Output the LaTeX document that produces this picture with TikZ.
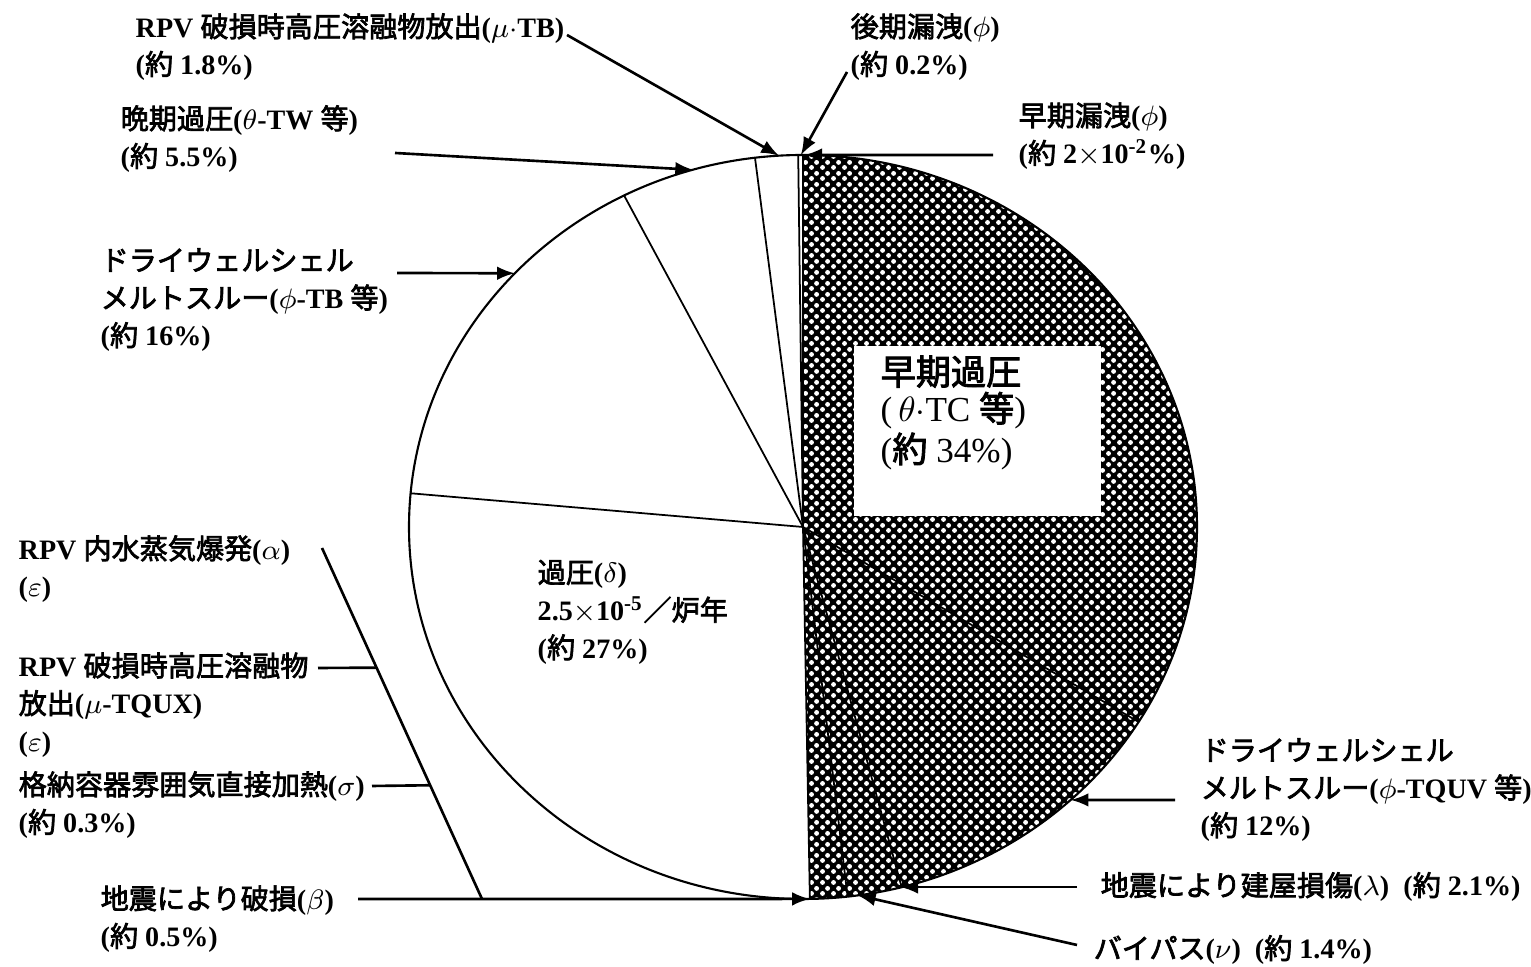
\documentclass[tikz,border=0pt]{standalone}
\usepackage{fontspec}
\setmainfont{Liberation Serif}
\newfontfamily\jp[FakeBold=2.5]{Noto Sans CJK JP}
\newcommand{\jpt}[1]{{\jp\mdseries #1}}
\usetikzlibrary{patterns,calc}
% white dots on the dark half of the pie
\pgfdeclarepatternformonly{pildots}{\pgfqpoint{-.75pt}{-.75pt}}{\pgfqpoint{2.25pt}{2.25pt}}{\pgfqpoint{3pt}{3pt}}{%
  \pgfpathcircle{\pgfqpoint{0pt}{0pt}}{.72pt}%
  \pgfpathcircle{\pgfqpoint{1.5pt}{1.5pt}}{.72pt}%
  \pgfusepath{fill}}
\begin{document}
\begin{tikzpicture}[x=0.1mm,y=0.1mm,
    lbl/.style={anchor=west,align=left,inner sep=0pt,font=\fontsize{8}{10.7}\selectfont\bfseries},
    ptr/.style={-latex,line width=0.75pt},
    tie/.style={line width=0.75pt},
    slice/.style={line width=0.5pt}]
    \useasboundingbox (0,0) rectangle (1531,967);
    \coordinate (C) at (803,440);
    % dark half
    \fill[black] (C) -- ++(271:394 and 372) arc[start angle=271,end angle=450,x radius=394,y radius=372] -- cycle;
    \fill[pattern=pildots,pattern color=white] (C) -- ++(271:394 and 372) arc[start angle=271,end angle=450,x radius=394,y radius=372] -- cycle;
    \foreach \a in {90,90.7,97,117,174.8,271,276.5,284.5,328.4}
        \draw[slice] (C) -- ++(\a:394 and 372);
    \draw[line width=0.6pt] (C) ellipse[x radius=394,y radius=372];
    \node[anchor=north west,fill=white,inner sep=0pt] (earlyOP) at (853,622)
        {\parbox[b][17mm][t]{24.7mm}{\vspace{1mm}\leftskip=2.7mm\fontsize{10}{10.5}\selectfont
        \jpt{早期過圧}\\(\,$\theta\cdot$TC \jpt{等})\\(\jpt{約} 34\%)}};
    \node[lbl] (lblDelta) at (537,355) {\jpt{過圧}($\delta$)\\2.5$\times$10\textsuperscript{-5}\jpt{／炉年}\\(\jpt{約} 27\%)};
    % labels, top
    \node[lbl] (lblMuTB) at (135,920) {RPV \jpt{破損時高圧溶融物放出}($\mu\cdot$TB)\\(\jpt{約} 1.8\%)};
    \node[lbl] (lblLateLeak) at (850,920) {\jpt{後期漏洩}($\phi$)\\(\jpt{約} 0.2\%)};
    \node[lbl] (lblLateOP) at (120,828) {\jpt{晩期過圧}($\theta$-TW \jpt{等})\\(\jpt{約} 5.5\%)};
    \node[lbl] (lblEarlyLeak) at (1018,831) {\jpt{早期漏洩}($\phi$)\\(\jpt{約} 2$\times$10\textsuperscript{-2}\%)};
    \node[lbl] (lblDWTB) at (100,667) {\jpt{ドライウェルシェル}\\\jpt{メルトスルー}($\phi$-TB \jpt{等})\\(\jpt{約} 16\%)};
    % labels, bottom left
    \node[lbl] (lblAlpha) at (18,398) {RPV \jpt{内水蒸気爆発}($\alpha$)\\($\varepsilon$)};
    \node[lbl] (lblTQUX) at (18,262) {RPV \jpt{破損時高圧溶融物}\\\jpt{放出}($\mu$-TQUX)\\($\varepsilon$)};
    \node[lbl] (lblSigma) at (18,162) {\jpt{格納容器雰囲気直接加熱}($\sigma$)\\(\jpt{約} 0.3\%)};
    \node[lbl] (lblBeta) at (100,48) {\jpt{地震により破損}($\beta$)\\(\jpt{約} 0.5\%)};
    % labels, bottom right
    \node[lbl] (lblDWTQUV) at (1200,177) {\jpt{ドライウェルシェル}\\\jpt{メルトスルー}($\phi$-TQUV \jpt{等})\\(\jpt{約} 12\%)};
    \node[lbl] (lblLambda) at (1100,80) {\jpt{地震により建屋損傷}($\lambda$)\enspace(\jpt{約} 2.1\%)};
    \node[lbl] (lblNu) at (1093,17) {\jpt{バイパス}($\nu$)\enspace(\jpt{約} 1.4\%)};
    % ends of the pointers
    \coordinate (sMuTB) at (567,932);
    \coordinate (sLateLeak) at (847,895);
    \coordinate (sLateOP) at (395,814);
    \coordinate (sEarlyLeak) at (993,812);
    \coordinate (sDWTB) at (397,694);
    \coordinate (sDWTQUV) at (1175,167);
    \coordinate (sLambda) at (1077,80);
    \coordinate (sNu) at (1077,22);
    \coordinate (sAlpha) at (322,419);
    \coordinate (sTQUX) at (318,299);
    \coordinate (sSigma) at (372,181);
    \coordinate (sBeta) at (358,68);
    \coordinate (joint) at (482,68);
    \path (C) ++(93.5:394 and 372) coordinate (tMuTB)
          (C) ++(90.3:394 and 372) coordinate (tLateLeak)
          (C) ++(106.2:394 and 372) coordinate (tLateOP)
          (C) ++(89.8:394 and 372) coordinate (tEarlyLeak)
          (C) ++(137:394 and 372) coordinate (tDWTB)
          (C) ++(312.8:394 and 372) coordinate (tDWTQUV)
          (C) ++(284.3:394 and 372) coordinate (tLambda)
          (C) ++(278:394 and 372) coordinate (tNu)
          (C) ++(271:394 and 372) coordinate (tBeta);
    \draw[ptr] (sMuTB) -- (tMuTB);
    \draw[ptr] (sLateLeak) -- (tLateLeak);
    \draw[ptr] (sLateOP) -- (tLateOP);
    \draw[ptr] (sEarlyLeak) -- (tEarlyLeak);
    \draw[ptr] (sDWTB) -- (tDWTB);
    \draw[ptr] (sDWTQUV) -- (tDWTQUV);
    \draw[ptr] (sLambda) -- (sLambda -| tLambda);
    \draw[ptr] (sNu) -- (tNu);
    \draw[ptr] (sBeta) -- (tBeta);
    \draw[tie] (sAlpha) -- (joint);
    \draw[tie] (sTQUX) -- ($(sAlpha)!0.341!(joint)$);
    \draw[tie] (sSigma) -- ($(sAlpha)!0.676!(joint)$);
\end{tikzpicture}
\end{document}
